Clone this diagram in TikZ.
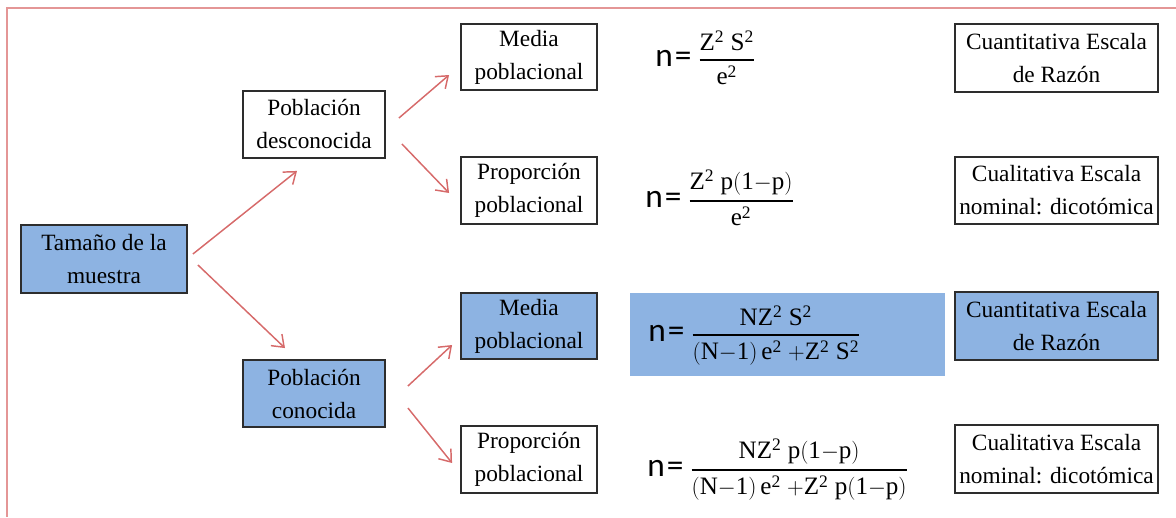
\documentclass[tikz,border=0pt]{standalone}
\usepackage{amsmath}
\usepackage{fontspec}
\setmainfont{Liberation Serif}
\newfontfamily\calfont{Carlito}
\usetikzlibrary{arrows.meta,calc}
\definecolor{boxblue}{RGB}{141,179,226}
\definecolor{arrred}{RGB}{214,106,106}
\definecolor{framered}{RGB}{228,150,150}
\definecolor{boxline}{RGB}{45,45,45}
\newcommand{\nEq}{{\calfont\fontsize{25}{25}\selectfont n\kern1.5pt=}\kern5pt}
\begin{document}
\begin{tikzpicture}[x=0.75pt,y=-0.75pt,
  box/.style={draw=boxline,line width=1.4pt,align=center,inner sep=0pt,font=\fontsize{17.5}{24.75}\selectfont},
  bluebox/.style={box,fill=boxblue},
  midbox/.style={minimum width=106.5pt,minimum height=50.25pt},
  smallbox/.style={minimum width=102pt,minimum height=50pt},
  rightbox/.style={minimum width=152.25pt,minimum height=50.5pt},
  arr/.style={draw=arrred,line width=1.1pt,-{Straight Barb[length=8pt,width=12pt]}},
  formula/.style={anchor=base west,inner sep=0pt,font=\fontsize{18.8}{22}\selectfont}]
\useasboundingbox (0,0) rectangle (1176,517);
\draw[framered,line width=1.1pt] (1176,8) -- (7,8) -- (7,517);

\node[bluebox,minimum width=124.5pt,minimum height=51pt] (tam) at (104,259) {Tamaño de la\\muestra};
\node[box,midbox] (pdes) at (314,124.5) {Población\\desconocida};
\node[bluebox,midbox] (pcon) at (314,393.5) {Población\\conocida};

\node[box,smallbox] (m1) at (529,57) {Media\\poblacional};
\node[box,smallbox] (p1) at (529,190.5) {Proporción\\poblacional};
\node[bluebox,smallbox] (m2) at (529,326) {Media\\poblacional};
\node[box,smallbox] (p2) at (529,459.5) {Proporción\\poblacional};

\node[box,rightbox] (r1) at (1056.5,58) {Cuantitativa Escala\\de Razón};
\node[box,rightbox] (r2) at (1056.5,190.5) {Cualitativa Escala\\nominal: dicotómica};
\node[bluebox,rightbox] (r3) at (1056.5,326) {Cuantitativa Escala\\de Razón};
\node[box,rightbox] (r4) at (1056.5,459) {Cualitativa Escala\\nominal: dicotómica};

\node[fill=boxblue,inner sep=0pt,minimum width=236.25pt,minimum height=62.25pt] (f3bg) at (787.5,334.5) {};

\node[formula] (f1) at (655,66) {\nEq$\genfrac{}{}{1.2pt}{0}{\mathrm{Z^2\ S^2}}{\mathrm{e^2}}$};
\node[formula] (f2) at (645,207) {\nEq$\genfrac{}{}{1.2pt}{0}{\mathrm{Z^2\ p(1{-}p)}}{\mathrm{e^2}}$};
\node[formula] (f3) at (648,341) {\nEq$\genfrac{}{}{1.2pt}{0}{\mathrm{NZ^2\ S^2}}{\mathrm{(N{-}1)\,e^2\ {+}Z^2\ S^2}}$};
\node[formula] (f4) at (647,476) {\nEq$\genfrac{}{}{1.2pt}{0}{\mathrm{NZ^2\ p(1{-}p)}}{\mathrm{(N{-}1)\,e^2\ {+}Z^2\ p(1{-}p)}}$};

\draw[arr] ($(tam.east)+(5,-5)$) -- ($(pdes.south)+(-17,12)$);
\draw[arr] ($(tam.east)+(10,6)$) -- ($(pcon.north)+(-29,-11)$);
\draw[arr] ($(pdes.east)+(13,-6.5)$) -- ($(m1.west)+(-11,18)$);
\draw[arr] ($(pdes.east)+(16,19.5)$) -- ($(p1.west)+(-11,2.5)$);
\draw[arr] ($(pcon.east)+(22,-7.5)$) -- ($(m2.west)+(-8,19)$);
\draw[arr] ($(pcon.east)+(22,14.5)$) -- ($(p2.west)+(-8,3.5)$);
\end{tikzpicture}
\end{document}
